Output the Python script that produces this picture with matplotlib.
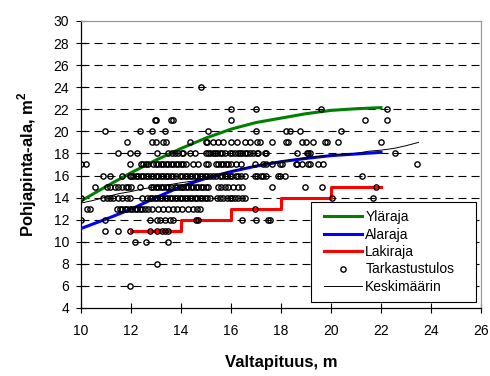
import numpy as np
import matplotlib
matplotlib.use('Agg')
import matplotlib.pyplot as plt
from matplotlib.lines import Line2D
from matplotlib.patches import Rectangle

plt.rcParams['font.family'] = ['Liberation Sans', 'DejaVu Sans']
plt.rcParams['mathtext.fontset'] = 'custom'
plt.rcParams['mathtext.rm'] = 'Liberation Sans'
plt.rcParams['mathtext.bf'] = 'Liberation Sans:bold'

# curves
x_curve = [10, 11, 12, 13, 14, 15, 16, 17, 18, 19, 20, 21, 22]
ylaraja = [13.7, 15.0, 16.25, 17.4, 18.45, 19.4, 20.2, 20.8, 21.2, 21.6, 21.9, 22.05, 22.15]
alaraja = [11.2, 12.05, 12.95, 14.0, 15.0, 15.75, 16.35, 16.85, 17.25, 17.55, 17.8, 17.95, 18.1]
x_laki = [12, 14, 16, 18, 20, 22]
lakiraja = [11, 12, 13, 14, 15, 15]
x_kesk = [10, 10.5, 11, 11.5, 12, 12.5, 13, 13.5, 14, 14.5, 15, 16, 17, 18, 19, 20, 21, 21.5, 22, 22.5, 23, 23.5]
keskim = [13.5, 13.75, 14.05, 14.35, 14.55, 14.8, 15.0, 15.15, 15.35, 15.5, 15.85, 16.4, 16.9, 17.3, 17.6, 17.85, 18.0, 18.2, 18.3, 18.45, 18.7, 19.0]

# Tarkastustulos, x values per row (y = row value)
r24 = [14.8]
r22 = [16.0, 17.0, 19.6, 22.25]
r21 = [12.95, 13.0, 13.6, 13.7, 16.0, 21.35, 22.25]
r20 = [10.95, 12.35, 12.85, 13.35, 15.1, 17.0, 18.2, 18.35, 18.75, 20.4]
r19 = [11.85, 12.85, 13.0, 13.3, 13.4, 14.35, 15.0, 15.05, 15.3, 15.5, 15.7, 16.0, 16.25,
       16.55, 16.75, 17.05, 17.15, 17.65, 18.2, 18.3, 18.85, 19.0, 19.3, 19.75, 19.85, 20.3, 22.0]
r18 = [11.5, 11.95, 12.25, 13.05, 13.5, 13.65, 13.75, 13.9, 14.05, 14.1, 14.35, 14.55, 15.0,
       15.1, 15.15, 15.3, 15.35, 15.45, 15.55, 15.65, 15.75, 15.95, 16.05, 16.15, 16.3, 16.35,
       16.45, 16.55, 16.65, 16.75, 16.9, 17.05, 17.1, 17.35, 17.4, 18.65, 19.05, 19.1, 19.15, 22.55]
r17 = [10.0, 10.2, 11.95, 12.4, 12.5, 12.6, 12.7, 12.9, 13.0, 13.1, 13.2, 13.3, 13.4, 13.5,
       13.6, 13.7, 13.8, 13.9, 14.0, 14.1, 14.2, 14.5, 14.7, 15.0, 15.1, 15.4, 15.5, 15.6, 15.7,
       15.8, 15.9, 16.0, 16.2, 16.4, 16.95, 17.3, 17.4, 17.65, 17.95, 18.05, 18.6, 18.65, 18.85,
       19.1, 19.15, 19.5, 19.7, 23.45]
r16 = [10.9, 11.15, 11.65, 11.95, 12.0, 12.1, 12.2, 12.3, 12.4, 12.5, 12.6, 12.7, 12.8, 12.9,
       13.0, 13.1, 13.2, 13.3, 13.4, 13.5, 13.6, 13.7, 13.8, 13.95, 14.05, 14.15, 14.25, 14.35,
       14.45, 14.55, 14.65, 14.75, 14.85, 14.95, 15.05, 15.15, 15.3, 15.4, 15.55, 15.65, 15.75,
       15.85, 15.95, 16.05, 16.2, 16.3, 16.4, 16.55, 16.95, 17.05, 17.2, 17.3, 17.4, 17.9, 17.95,
       18.15, 21.25]
r15 = [10.55, 11.05, 11.15, 11.35, 11.5, 11.65, 11.8, 11.9, 12.0, 12.35, 12.8, 12.9, 13.0,
       13.1, 13.2, 13.3, 13.4, 13.5, 13.6, 13.75, 13.85, 13.95, 14.05, 14.1, 14.2, 14.3, 14.4,
       14.5, 14.6, 14.7, 14.8, 14.9, 15.0, 15.1, 15.5, 15.6, 15.75, 15.9, 16.1, 16.3, 16.45,
       17.65, 18.95, 19.65, 21.8]
r14 = [10.0, 10.9, 11.05, 11.15, 11.3, 11.5, 11.65, 11.85, 11.95, 12.45, 12.65, 12.75, 12.85,
       12.95, 13.05, 13.15, 13.25, 13.35, 13.45, 13.55, 13.65, 13.75, 13.85, 13.95, 14.05, 14.15,
       14.25, 14.35, 14.45, 14.55, 14.65, 14.75, 14.85, 14.95, 15.05, 15.15, 15.45, 15.55, 15.7,
       15.85, 15.95, 16.05, 16.15, 16.3, 16.45, 16.55, 20.05, 21.7]
r13 = [10.25, 10.35, 11.45, 11.55, 11.65, 11.75, 11.85, 11.95, 12.05, 12.15, 12.25, 12.35,
       12.45, 12.55, 12.7, 12.85, 13.1, 13.3, 13.5, 13.7, 13.85, 14.05, 14.3, 14.5, 14.65, 14.75,
       16.95]
r12 = [10.0, 10.95, 12.75, 13.05, 13.15, 13.35, 13.55, 13.7, 14.6, 14.7, 16.45, 17.0, 17.5, 17.55]
r11 = [10.95, 11.5, 11.95, 12.75, 13.05, 13.25, 13.35, 13.5]
r10 = [12.15, 12.6, 13.5]
r8 = [13.05]
r6 = [11.95]

rows = [(24, r24), (22, r22), (21, r21), (20, r20), (19, r19), (18, r18), (17, r17),
        (16, r16), (15, r15), (14, r14), (13, r13), (12, r12), (11, r11), (10, r10),
        (8, r8), (6, r6)]
tx = np.concatenate([r for _, r in rows])
ty = np.concatenate([[v] * len(r) for v, r in rows])

xticks = np.arange(10, 27, 2)
yticks = np.arange(4, 31, 2)

fig = plt.figure(figsize=(4.9, 3.76), dpi=100)
ax = fig.add_axes([0.1653, 0.1809, 0.8163, 0.7633])

ax.hlines(yticks[1:-1], 10, 26, colors='black', lw=0.8, ls=(0, (7.2, 4.5)), zorder=1)

ax.plot(x_curve, ylaraja, color='#008000', lw=2.2, zorder=3)
ax.plot(x_curve, alaraja, color='#0000ff', lw=2.2, zorder=3)
ax.plot(x_laki, lakiraja, color='#ff0000', lw=2.2, drawstyle='steps-post', zorder=3)
ax.plot(tx, ty, ls='none', marker='o', ms=3.8, mfc='none', mec='black', mew=1.0, zorder=4)
ax.plot(x_kesk, keskim, color='black', lw=0.7, zorder=5)

ax.set_xlim(10, 26); ax.set_ylim(4, 30)
ax.set_xticks(xticks); ax.set_yticks(yticks)
ax.tick_params(direction='inout', length=7, width=0.8, labelsize=10, color='black')
ax.tick_params(axis='y', pad=5)
ax.tick_params(axis='x', pad=8)
for s in ['left', 'bottom']:
    ax.spines[s].set_color('black'); ax.spines[s].set_linewidth(0.9)
for s in ['top', 'right']:
    ax.spines[s].set_color('#999999'); ax.spines[s].set_linewidth(0.9)

ax.set_xlabel('Valtapituus, m', fontsize=12, weight='bold')
ax.set_ylabel('Pohjapinta-ala, m$^\\mathbf{2}$', fontsize=12, weight='bold')
ax.xaxis.set_label_coords(0.5, -0.165)
ax.yaxis.set_label_coords(-0.105, 0.5)

# legend with separate frame
ax.add_patch(Rectangle((0.575, 0.021), 0.4125, 0.348, transform=ax.transAxes,
                       facecolor='white', edgecolor='black', lw=0.8, zorder=6, clip_on=False))
handles = [Line2D([], [], color='#008000', lw=2.2),
           Line2D([], [], color='#0000ff', lw=2.2),
           Line2D([], [], color='#ff0000', lw=2.2),
           Line2D([], [], ls='none', marker='o', ms=3.8, mfc='none', mec='black', mew=1.0),
           Line2D([], [], color='black', lw=0.7)]
labels = ['Yläraja', 'Alaraja', 'Lakiraja', 'Tarkastustulos', 'Keskimäärin']
leg = ax.legend(handles, labels, loc='center left', bbox_to_anchor=(0.605, 0.195),
                frameon=False, fontsize=10, handlelength=2.7, handletextpad=0.25,
                labelspacing=0.25, borderpad=0.1, borderaxespad=0)
leg.set_zorder(7)

fig.savefig('out.png', dpi=100)
